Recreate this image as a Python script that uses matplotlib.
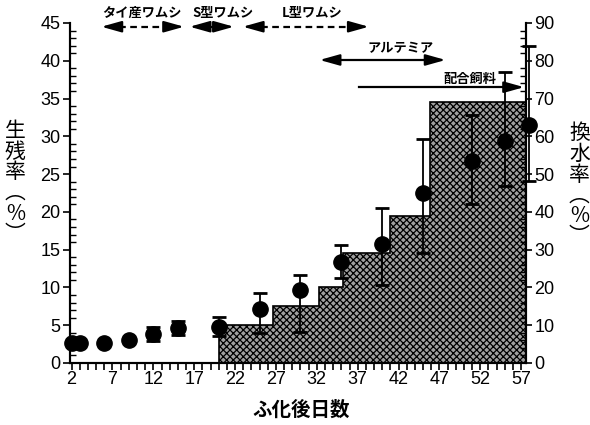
import numpy as np
import matplotlib.pyplot as plt
from matplotlib.ticker import MultipleLocator

# survival rate (left axis, %)
days = [2, 3, 6, 9, 12, 15, 20, 25, 30, 35, 40, 45, 51, 55, 58]
survival = [2.6, 2.6, 2.7, 3.0, 3.8, 4.6, 4.8, 7.2, 9.7, 13.3, 15.8, 22.5, 26.7, 29.4, 31.5]
err_up = [0, 0, 0, 0, 0.9, 0.9, 1.3, 2.0, 2.0, 2.3, 4.7, 7.1, 6.1, 9.1, 10.5]
err_low = [0, 0, 0, 0, 0.9, 0.9, 1.2, 3.2, 5.6, 2.1, 5.5, 8.0, 5.6, 6.0, 7.4]

# water exchange rate (right axis, %)
exchange_edges = [20, 26.6, 32.3, 35.2, 40.9, 45.8, 57.6]
exchange_rate = [10, 15, 20, 29, 39, 69]

# feeding periods
feeds = ['タイ産ワムシ', 'S型ワムシ', 'L型ワムシ', 'アルテミア', '配合飼料']
feed_start = [5.3, 16.1, 22.6, 32.0, 36.0]
feed_end = [16.1, 22.2, 38.7, 48.1, 57.7]

plt.rcParams['font.family'] = ['Liberation Sans Narrow', 'Liberation Sans', 'DejaVu Sans']
plt.rcParams['hatch.linewidth'] = 0.9
jp = ['Noto Sans CJK JP', 'DejaVu Sans']

fig = plt.figure(figsize=(5.9, 4.25), dpi=100)
ax = fig.add_axes([0.1186, 0.146, 0.773, 0.8])
ax2 = ax.twinx()
ax.set_zorder(ax2.get_zorder() + 1)
ax.patch.set_visible(False)

ax2.stairs(exchange_rate, exchange_edges, fill=True, facecolor='#a0a0a0',
           edgecolor='black', hatch='xxxxx', linewidth=1.2)

ax.errorbar(days, survival, yerr=[err_low, err_up], fmt='none', ecolor='black',
            elinewidth=1.3, capsize=5, capthick=2, clip_on=False, zorder=3)
ax.plot(days, survival, 'o', color='black', ms=11, clip_on=False, zorder=5)

ax.set_xlim(1.8, 57.6)
ax.set_ylim(0, 45)
ax2.set_ylim(0, 90)

ax.set_xticks(np.arange(2, 58, 5))
ax.xaxis.set_minor_locator(MultipleLocator(1))
ax.yaxis.set_major_locator(MultipleLocator(5))
ax.yaxis.set_minor_locator(MultipleLocator(1))
ax2.yaxis.set_major_locator(MultipleLocator(10))
ax2.yaxis.set_minor_locator(MultipleLocator(2))

for a in (ax, ax2):
    a.spines['top'].set_visible(False)
    for s in a.spines.values():
        s.set_linewidth(1.5)
ax.tick_params(axis='x', which='both', direction='out', length=5, width=1.2, labelsize=13, pad=1)
ax.tick_params(axis='y', which='major', direction='out', length=5, width=1.2, labelsize=13, pad=2)
ax.tick_params(axis='y', which='minor', direction='in', length=4, width=1.0)
ax2.tick_params(axis='y', which='major', direction='out', length=4, width=1.2, labelsize=13, pad=2)
ax2.tick_params(axis='y', which='minor', direction='in', length=4, width=1.0)

# feeding arrows
ys = [44.5, 44.5, 44.5, 40.1, 36.5]
ty = [46.3, 46.3, 46.3, 41.7, 36.7]
style = '-|>,head_length=1.0,head_width=0.28'
for i, name in enumerate(feeds):
    s, e, y = feed_start[i], feed_end[i], ys[i]
    dashed = i < 3
    ax.plot([s + 1.2, e - 1.2], [y, y], color='black', lw=1.6,
            ls=(0, (3, 2)) if dashed else '-', clip_on=False)
    ax.annotate('', xy=(e, y), xytext=(e - 2.0, y),
                arrowprops=dict(arrowstyle=style, color='black', lw=1.6, mutation_scale=12),
                annotation_clip=False)
    if i < 4:
        ax.annotate('', xy=(s, y), xytext=(s + 2.0, y),
                    arrowprops=dict(arrowstyle=style, color='black', lw=1.6, mutation_scale=12),
                    annotation_clip=False)
    tx = [10.6, 20.5, 31.4, 42.2, 50.7][i]
    ax.text(tx, ty[i], name, ha='center', va='center' if i < 4 else 'bottom',
            family=jp, fontsize=9.5, fontweight='bold', clip_on=False)

fig.text(0.026, 0.57, '生\n残\n率\n︵\n%\n︶', ha='center', va='center',
         family=jp, fontsize=15, linespacing=0.92)
fig.text(0.982, 0.565, '換\n水\n率\n︵\n%\n︶', ha='center', va='center',
         family=jp, fontsize=15, linespacing=0.92)
fig.text(0.51, 0.035, 'ふ化後日数', ha='center', va='center',
         family=jp, fontsize=14, fontweight='bold')

fig.savefig('out.png', dpi=100)
